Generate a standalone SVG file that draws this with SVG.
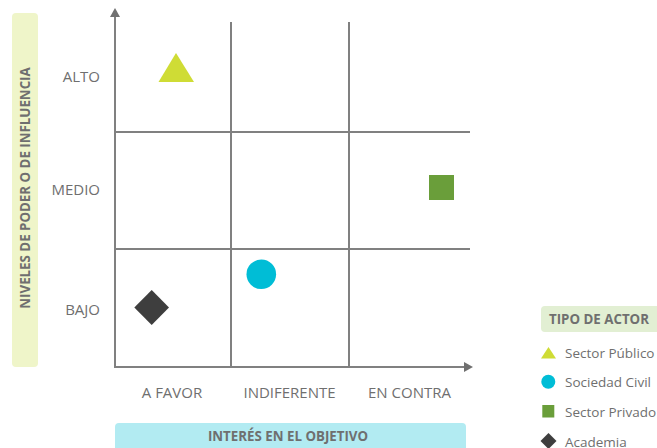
<svg xmlns="http://www.w3.org/2000/svg" width="657" height="448" viewBox="0 0 657 448">
<style>
.lbl{font-family:"Open Sans","Liberation Sans",sans-serif;font-size:15px;fill:#6f6f6f}
.ttl{font-family:"Open Sans","Liberation Sans",sans-serif;font-size:13.3px;font-weight:bold;fill:#6f6f6f}
.leg{font-family:"Open Sans","Liberation Sans",sans-serif;font-size:13.5px;fill:#6f6f6f}
.grid{stroke:#808080;stroke-width:2;fill:none}
</style>
<defs>
<marker id="arr" markerWidth="10" markerHeight="10" refX="0" refY="5" orient="auto" markerUnits="userSpaceOnUse">
<path d="M0,0 L9,5 L0,10 Z" fill="#707070"/>
</marker>
</defs>
<rect x="0" y="0" width="657" height="448" fill="#ffffff"/>
<g id="axis-y-title">
<rect x="12" y="13" width="26" height="354" rx="4" fill="#eff5c9"/>
<text class="ttl" transform="translate(29.5,188) rotate(-90)" text-anchor="middle">NIVELES DE PODER O DE INFLUENCIA</text>
</g>
<g id="axis-x-title">
<rect x="115" y="423" width="351" height="30" rx="4" fill="#b2ebf2"/>
<text class="ttl" x="288" y="441" text-anchor="middle">INTERÉS EN EL OBJETIVO</text>
</g>
<g id="connectors">
<line class="grid" x1="115" y1="367" x2="115" y2="17" marker-end="url(#arr)"/>
<line class="grid" x1="114" y1="367" x2="464" y2="367" marker-end="url(#arr)"/>
<line class="grid" x1="231" y1="22" x2="231" y2="367"/>
<line class="grid" x1="349" y1="22" x2="349" y2="367"/>
<line class="grid" x1="115" y1="132" x2="470" y2="132"/>
<line class="grid" x1="115" y1="249" x2="470" y2="249"/>
</g>
<g id="y-labels">
<text class="lbl" x="100" y="82" text-anchor="end">ALTO</text>
<text class="lbl" x="100" y="195" text-anchor="end">MEDIO</text>
<text class="lbl" x="100" y="315" text-anchor="end">BAJO</text>
</g>
<g id="x-labels">
<text class="lbl" x="172" y="398" text-anchor="middle">A FAVOR</text>
<text class="lbl" x="289.5" y="398" text-anchor="middle">INDIFERENTE</text>
<text class="lbl" x="409.5" y="398" text-anchor="middle">EN CONTRA</text>
</g>
<g id="sector-publico">
<polygon points="176,53 194,82 158.5,82" fill="#cfdc35"/>
</g>
<g id="sector-privado">
<rect x="429" y="175" width="25" height="25" fill="#6a9e3a"/>
</g>
<g id="sociedad-civil">
<circle cx="261.3" cy="274.3" r="14.8" fill="#00bdd6"/>
</g>
<g id="academia">
<polygon points="151.7,290 169,307.5 151.7,325 134.3,307.5" fill="#3e3e3e"/>
</g>
<g id="legend">
<rect x="541" y="306" width="120" height="26" rx="4" fill="#e2efd3"/>
<text class="ttl" x="549" y="324">TIPO DE ACTOR</text>
<polygon points="548.5,347 556,358.5 541,358.5" fill="#cfdc35"/>
<text class="leg" x="565" y="358">Sector Público</text>
<circle cx="548.3" cy="381.7" r="7" fill="#00bdd6"/>
<text class="leg" x="565" y="387">Sociedad Civil</text>
<rect x="542.3" y="405" width="12" height="12.5" fill="#6a9e3a"/>
<text class="leg" x="565" y="417">Sector Privado</text>
<polygon points="548.5,433 556.5,441 548.5,449 540.5,441" fill="#3e3e3e"/>
<text class="leg" x="565" y="446.5">Academia</text>
</g>
</svg>
